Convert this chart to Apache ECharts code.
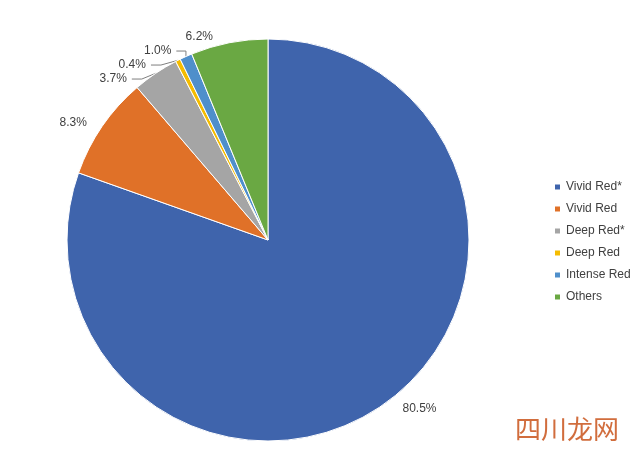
<!DOCTYPE html>
<html><head><meta charset="utf-8">
<script src="https://cdn.jsdelivr.net/npm/echarts@6/dist/echarts.min.js"></script>
<style>html,body{margin:0;padding:0;background:#fff}#c{width:640px;height:460px}</style>
</head><body><div id="c"></div>
<script>
const categories=['Vivid Red*','Vivid Red','Deep Red*','Deep Red','Intense Red','Others'];
const values=[80.5,8.3,3.7,0.4,1.0,6.2];
const colors=['#3F64AC','#E07128','#A5A5A5','#F5BC00','#4F8FCB','#6AA843'];
const noLine=[true,true,false,false,false,true];
const chart=echarts.init(document.getElementById('c'));
chart.setOption({
  animation:false,
  color:colors,
  legend:{orient:'vertical',left:548,top:176,itemWidth:7,itemHeight:7,itemGap:10,icon:'rect',
    textStyle:{fontFamily:'Liberation Sans, Arial',fontSize:12,color:'#404040'},data:categories},
  graphic:[{type:'text',left:515,top:416,style:{text:'四川龙网',font:'26px "Noto Sans CJK SC"',fill:'#C9541B',opacity:0.85}}],
  series:[{type:'pie',center:[268,240],radius:[0,201],startAngle:90,clockwise:true,
    data:categories.map((n,i)=>({name:n,value:values[i],labelLine:{show:!noLine[i]}})),
    itemStyle:{borderColor:'#fff',borderWidth:1},
    label:{formatter:p=>p.value.toFixed(1)+'%',fontFamily:'Liberation Sans, Arial',fontSize:12,color:'#404040'},
    labelLine:{length:6,length2:10,lineStyle:{color:'#7f7f7f'}}
  }]
});
</script></body></html>
